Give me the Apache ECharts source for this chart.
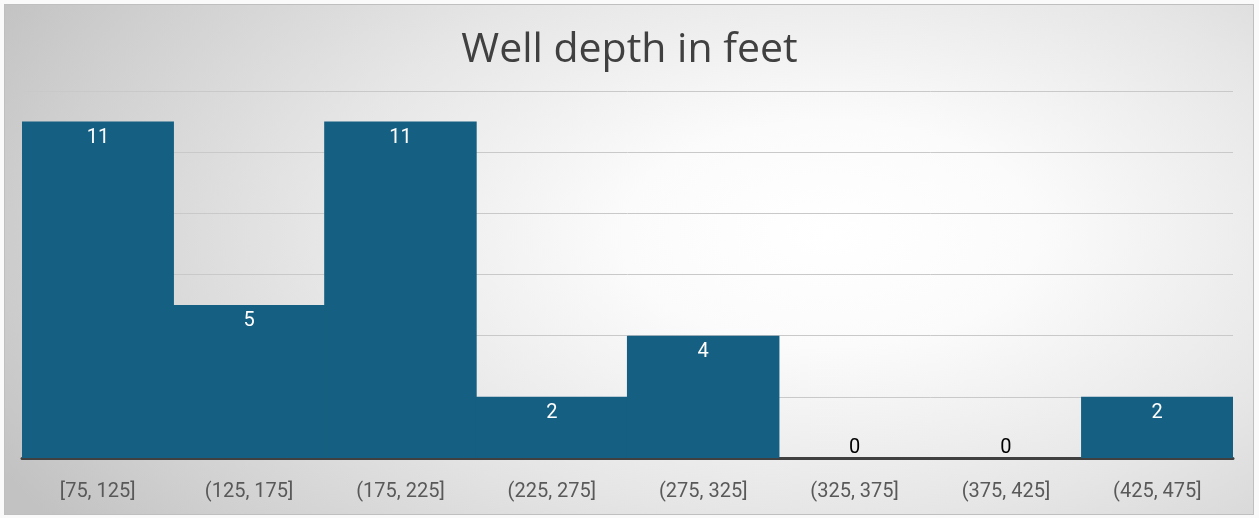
<!DOCTYPE html>
<html><head><meta charset="utf-8">
<script src="https://cdn.jsdelivr.net/npm/echarts@6/dist/echarts.min.js"></script>
<style>
html,body{margin:0;padding:0;background:#fafafa;}
#bg{position:absolute;left:4px;top:4px;width:1248px;height:509px;border:1px solid #bfbfbf;
background:radial-gradient(ellipse 75% 100% at 66% 45%, #ffffff 0%, #fbfbfb 22%, #e6e6e6 55%, #cfcfcf 85%, #c2c2c2 100%);}
#c{position:absolute;left:0;top:0;width:1259px;height:518px;}
</style></head>
<body>
<div id="bg"></div>
<div id="c"></div>
<script>
const categories = ['[75, 125]','(125, 175]','(175, 225]','(225, 275]','(275, 325]','(325, 375]','(375, 425]','(425, 475]'];
const counts = [11, 5, 11, 2, 4, 0, 0, 2];
const chartTitle = 'Well depth in feet';

const chart = echarts.init(document.getElementById('c'), null, {renderer:'canvas'});
chart.setOption({
  backgroundColor: 'transparent',
  animation: false,
  title: {
    text: chartTitle, left: 'center', top: 25,
    textStyle: {fontFamily: 'Open Sans', fontSize: 41, fontWeight: 'normal', color: '#404040'}
  },
  grid: {left: 22, right: 26, top: 91, bottom: 60, containLabel: false},
  xAxis: {
    type: 'category', data: categories,
    axisLine: {lineStyle: {color: '#404040', width: 3}},
    axisTick: {show: false},
    axisLabel: {color: '#595959', fontSize: 20, fontFamily: 'Roboto', margin: 24}
  },
  yAxis: {
    type: 'value', min: 0, max: 12, interval: 2,
    axisLabel: {show: false}, axisLine: {show: false}, axisTick: {show: false},
    splitLine: {lineStyle: {color: '#c9c9c9', width: 1}}
  },
  series: [{
    type: 'bar', barWidth: 152.5,
    itemStyle: {color: '#155F82'},
    data: counts.map(v => v === 0
      ? {value: v, label: {position: 'top', color: '#000', distance: 0}}
      : v),
    label: {show: true, position: 'insideTop', distance: 6, color: '#ffffff', fontSize: 20, fontFamily: 'Roboto'}
  }]
});
</script>
</body></html>
